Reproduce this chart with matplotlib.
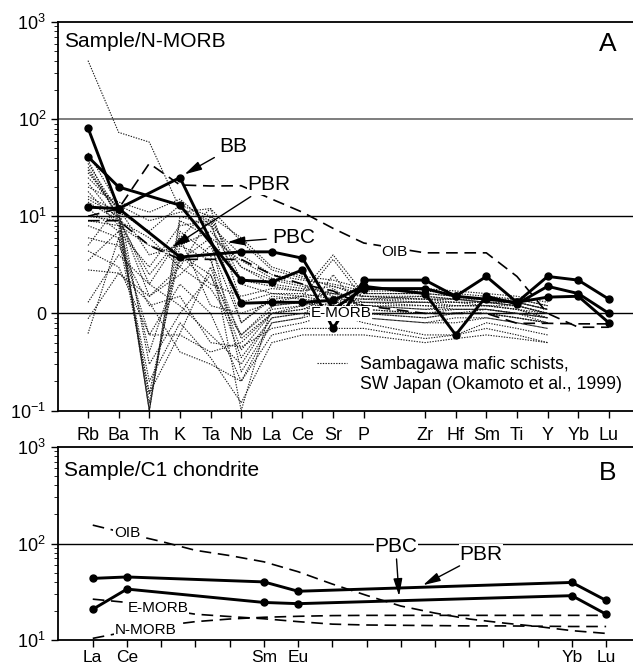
import numpy as np
import matplotlib.pyplot as plt
from matplotlib.lines import Line2D
from matplotlib.ticker import LogLocator, NullFormatter

plt.rcParams['font.family'] = ['Liberation Sans', 'DejaVu Sans']
plt.rcParams['mathtext.fontset'] = 'custom'
plt.rcParams['mathtext.rm'] = 'Liberation Sans'
plt.rcParams['mathtext.it'] = 'Liberation Sans'

# ---- panel A: N-MORB normalised spidergram ----
elems = ['Rb', 'Ba', 'Th', 'K', 'Ta', 'Nb', 'La', 'Ce', 'Sr', 'P',
         'Zr', 'Hf', 'Sm', 'Ti', 'Y', 'Yb', 'Lu']
sample_elems = ['Rb', 'Ba', 'K', 'Nb', 'La', 'Ce', 'Sr', 'P',
                'Zr', 'Hf', 'Sm', 'Ti', 'Y', 'Yb', 'Lu']
bb = [12.4, 12, 25, 1.27, 1.3, 1.3, 1.36, 1.9, 1.6, 0.6, 1.5, 1.25, 1.9, 1.6, 1.0]
pbr = [41, 20, 13, 2.2, 2.1, 2.8, 0.70, 2.2, 2.2, 1.5, 2.4, 1.3, 2.4, 2.2, 1.4]
pbc = [81, 12, 3.8, 4.3, 4.3, 3.7, 1.1, 1.8, 1.8, 1.5, 1.4, 1.3, 1.47, 1.5, 0.8]
oib_n = [10, 12, 35, 21, 20.5, 20.6, 15, 11, 7.5, 5.3, 4.2, 4.2, 4.2, 2.4, 1.0, 0.72, 0.72]
emorb_n = [9, 9, 5, 3.6, 3.6, 3.6, 2.5, 2.0, 1.7, 1.2, 1.0, 1.0, 1.0, 0.79, 0.79, 0.78, 0.78]

schist_elems = elems[:15]  # Rb ... Y
schists = [
    # Rb   Ba   Th    K    Ta   Nb    La   Ce   Sr   P    Zr   Hf   Sm   Ti   Y
    [400, 73, 58, 12, 9, 3.0, 2.2, 1.9, 1.6, 1.5, 1.4, 1.3, 1.3, 1.2, 1.0],
    [45, 13, 9, 11, 12, 5.5, 2.8, 2.3, 1.9, 1.6, 1.6, 1.5, 1.4, 1.3, 1.1],
    [35, 11, 7, 13, 10, 6.0, 3.0, 2.4, 2.2, 1.8, 1.8, 1.7, 1.6, 1.5, 1.3],
    [30, 10, 0.1, 9, 6, 3.5, 2.3, 2.0, 1.5, 1.4, 1.5, 1.4, 1.3, 1.2, 1.0],
    [25, 12, 0.1, 7, 4, 0.1, 1.2, 1.3, 1.2, 1.2, 1.1, 1.1, 1.1, 1.0, 0.9],
    [22, 9, 0.12, 5, 3.5, 0.55, 1.0, 1.1, 1.3, 1.0, 1.0, 1.0, 1.0, 0.9, 0.8],
    [18, 8, 0.15, 4, 2.5, 0.35, 0.9, 1.0, 0.9, 0.9, 0.8, 0.9, 0.9, 0.8, 0.7],
    [15, 10, 1.5, 3, 1.8, 0.6, 1.1, 1.2, 1.4, 1.2, 1.1, 1.2, 1.2, 1.1, 0.9],
    [12, 7, 3.0, 8, 9, 0.8, 1.4, 1.5, 1.6, 1.3, 1.3, 1.3, 1.3, 1.2, 1.0],
    [10, 9, 2.5, 6, 1.2, 1.0, 1.3, 1.5, 3.6, 1.4, 1.4, 1.4, 1.3, 1.3, 1.1],
    [8, 6, 0.6, 2.0, 1.0, 0.2, 0.8, 0.9, 2.5, 1.0, 0.9, 1.0, 1.0, 0.9, 0.8],
    [6, 5, 1.2, 1.5, 0.5, 0.45, 0.7, 0.8, 1.0, 0.8, 0.6, 0.6, 0.8, 0.7, 0.6],
    [4.4, 3, 0.6, 0.6, 0.4, 0.5, 1.0, 1.2, 1.8, 1.1, 1.0, 1.1, 1.1, 1.0, 0.8],
    [2.8, 2.6, 1.3, 0.4, 0.3, 0.2, 0.6, 0.7, 0.7, 0.7, 0.55, 0.6, 0.7, 0.6, 0.5],
    [1.3, 4, 2.0, 1.2, 0.6, 0.3, 0.9, 1.0, 1.2, 1.0, 0.9, 1.0, 1.0, 0.9, 0.8],
    [0.88, 2.6, 1.5, 2.5, 5.0, 0.8, 1.5, 1.4, 1.3, 1.3, 1.3, 1.2, 1.2, 1.1, 1.0],
    [0.62, 6, 0.15, 0.62, 3.0, 0.42, 1.0, 1.1, 1.5, 1.2, 1.2, 1.1, 1.1, 1.0, 0.9],
    [20, 14, 11, 15, 8, 4.0, 2.5, 2.2, 2.0, 1.7, 1.7, 1.6, 1.5, 1.4, 1.2],
    [28, 12, 4, 5, 7, 3.0, 2.0, 1.8, 1.6, 1.5, 1.5, 1.4, 1.4, 1.3, 1.1],
    [16, 11, 0.1, 10, 8, 2.0, 1.6, 1.6, 1.4, 1.4, 1.3, 1.3, 1.2, 1.2, 1.0],
    [9, 8, 5, 4, 2, 1.5, 1.8, 1.7, 1.9, 1.5, 1.4, 1.4, 1.3, 1.3, 1.1],
    [5, 13, 0.3, 1.0, 2.5, 0.6, 1.2, 1.3, 1.1, 1.1, 1.0, 1.0, 1.1, 1.0, 0.9],
    [38, 9, 6, 3, 10, 2.2, 1.9, 1.7, 4.0, 1.6, 1.6, 1.5, 1.4, 1.4, 1.2],
    [3.5, 7, 0.2, 0.8, 0.35, 0.12, 0.5, 0.6, 0.6, 0.6, 0.5, 0.55, 0.6, 0.55, 0.5],
    [32, 10, 2.0, 6, 12, 1.3, 1.6, 1.5, 1.3, 1.3, 1.2, 1.2, 1.2, 1.1, 0.9],
    [14, 9, 0.4, 3.5, 6, 0.25, 0.8, 0.9, 1.1, 0.9, 0.8, 0.8, 0.9, 0.8, 0.7],
]

# ---- panel B: chondrite normalised REE ----
ree = ['La', 'Ce', 'Pr', 'Nd', 'Pm', 'Sm', 'Eu', 'Gd', 'Tb', 'Dy', 'Ho', 'Y',
       'Er', 'Tm', 'Yb', 'Lu']
ree_shown = ['La', 'Ce', 'Sm', 'Eu', 'Yb', 'Lu']
sample_ree = ['La', 'Ce', 'Sm', 'Eu', 'Yb', 'Lu']
pbr_ch = [43.5, 45, 40, 32, 39.5, 25.7]
pbc_ch = [20.8, 33.7, 24.5, 23.8, 28.8, 18.5]
oib_ch = [155, 127, 105, 85, 75, 64.6, 51, 38, 29, 22.5, 19, 16.5, 15, 13.8, 12.5, 11.7]
emorb_ch = [26.5, 24.5, 21, 18.5, 17.5, 16.6, 15.5, 14.6, 14.3, 14.2, 14.1, 14.0,
            14.0, 13.9, 13.8, 13.8]
nmorb_ch = [10.4, 12.2, 14, 15.5, 16.5, 17.2, 17.6, 17.9, 18, 18, 18, 18, 18, 18, 18, 18]

# category positions (gap between P and Zr)
xa = {e: i + (i >= 10) for i, e in enumerate(elems)}
xb = {e: i for i, e in enumerate(ree)}

DASH = (0, (7, 4))
DOT = (0, (1.2, 1.2))
arrow = dict(arrowstyle='-|>,head_length=0.7,head_width=0.18', color='k', lw=1.0,
             shrinkA=2, shrinkB=0)
white = dict(facecolor='white', edgecolor='none', pad=0.5)

fig = plt.figure(figsize=(6.33, 6.70), dpi=100)
axA = fig.add_axes([58 / 633, (670 - 410.5) / 670, 576 / 633, 388.5 / 670])
axB = fig.add_axes([57.5 / 633, (670 - 640) / 670, 576 / 633, 193 / 670])

# panel A
for row in schists:
    axA.plot([xa[e] for e in schist_elems], row, color='0.1', lw=0.8, ls=DOT, zorder=2)
axA.plot([xa[e] for e in elems], oib_n, color='k', lw=1.2, ls=DASH, zorder=3)
axA.plot([xa[e] for e in elems], emorb_n, color='k', lw=1.2, ls=DASH, zorder=3)
for vals in (bb, pbr, pbc):
    axA.plot([xa[e] for e in sample_elems], vals, 'k-o', lw=2.1, ms=5, zorder=4)

axA.axhline(100, color='0.45', lw=1.3, zorder=1)
axA.axhline(10, color='k', lw=1.0, zorder=1)
axA.axhline(1, color='k', lw=1.0, zorder=1)

axA.set_yscale('log')
axA.set_ylim(0.1, 1000)
axA.set_xlim(-0.98, 17.82)
axA.set_xticks([xa[e] for e in elems])
axA.set_xticklabels(elems)
axA.set_yticks([0.1, 1, 10, 100, 1000])
axA.set_yticklabels([r'$10^{-1}$', '0', r'$10^{1}$', r'$10^{2}$', r'$10^{3}$'])

axA.text(0.011, 0.975, 'Sample/N-MORB', transform=axA.transAxes, va='top', fontsize=15)
axA.text(0.955, 0.975, 'A', transform=axA.transAxes, va='top', ha='center', fontsize=19)
axA.annotate('BB', xy=(xa['K'] + 0.15, 27), xytext=(4.75, 52), fontsize=15,
             ha='center', va='center', arrowprops=arrow, zorder=6)
axA.annotate('PBR', xy=(2.75, 4.8), xytext=(5.9, 21), fontsize=15, ha='center',
             va='center', bbox=white, arrowprops=arrow, zorder=6)
axA.annotate('PBC', xy=(4.55, 5.4), xytext=(6.7, 6.1), fontsize=15, ha='center',
             va='center', arrowprops=arrow, zorder=6)
axA.text(10.0, 4.25, 'OIB', fontsize=11, ha='center', va='center', bbox=white, zorder=5)
axA.text(8.25, 1.0, 'E-MORB', fontsize=11, ha='center', va='center', bbox=white, zorder=5)

handles = [Line2D([], [], color='0.1', lw=0.8, ls=DOT), Line2D([], [], lw=0)]
axA.legend(handles, ['Sambagawa mafic schists,', 'SW Japan (Okamoto et al., 1999)'],
           loc='upper left', bbox_to_anchor=(0.45, 0.14), frameon=False, fontsize=12.7,
           handlelength=1.7, handletextpad=0.7, labelspacing=0.15, borderpad=0,
           borderaxespad=0)

# panel B
axB.plot([xb[e] for e in ree], oib_ch, color='k', lw=1.2, ls=DASH, zorder=3)
axB.plot([xb[e] for e in ree], emorb_ch, color='k', lw=1.2, ls=DASH, zorder=3)
axB.plot([xb[e] for e in ree], nmorb_ch, color='k', lw=1.2, ls=DASH, zorder=3)
for vals in (pbr_ch, pbc_ch):
    axB.plot([xb[e] for e in sample_ree], vals, 'k-o', lw=2.1, ms=5, zorder=4)
axB.axhline(100, color='k', lw=1.0, zorder=1)

axB.set_yscale('log')
axB.set_ylim(10, 1000)
axB.set_xlim(-1.03, 15.8)
axB.set_xticks(range(len(ree)))
axB.set_xticklabels([e if e in ree_shown else '' for e in ree])
axB.set_yticks([10, 100, 1000])
axB.set_yticklabels([r'$10^{1}$', r'$10^{2}$', r'$10^{3}$'])

axB.text(0.011, 0.93, 'Sample/C1 chondrite', transform=axB.transAxes, va='top', fontsize=15)
axB.text(0.955, 0.93, 'B', transform=axB.transAxes, va='top', ha='center', fontsize=19)
axB.annotate('PBC', xy=(8.95, 28.5), xytext=(8.85, 94), fontsize=15, ha='center',
             va='center', bbox=white, arrowprops=arrow, zorder=6)
axB.annotate('PBR', xy=(9.65, 37), xytext=(11.35, 77), fontsize=15, ha='center',
             va='center', bbox=white, arrowprops=arrow, zorder=6)
axB.text(1.0, 127, 'OIB', fontsize=11, ha='center', va='center', bbox=white, zorder=5)
axB.text(1.9, 21.3, 'E-MORB', fontsize=11, ha='center', va='center', bbox=white, zorder=5)
axB.text(1.55, 12.7, 'N-MORB', fontsize=11, ha='center', va='center', bbox=white, zorder=5)

for ax in (axA, axB):
    ax.spines['right'].set_visible(False)
    for s in ('left', 'top', 'bottom'):
        ax.spines[s].set_linewidth(1.3)
    ax.yaxis.set_minor_locator(LogLocator(base=10, subs=np.arange(2, 10)))
    ax.yaxis.set_minor_formatter(NullFormatter())
    ax.tick_params(axis='both', which='major', direction='out', length=5, width=1,
                   labelsize=13)
    ax.tick_params(axis='y', which='minor', direction='out', length=3, width=0.6)
axA.tick_params(axis='x', pad=7)
axB.tick_params(axis='x', pad=2, labelsize=12.5)

fig.savefig('out.png', dpi=100)
